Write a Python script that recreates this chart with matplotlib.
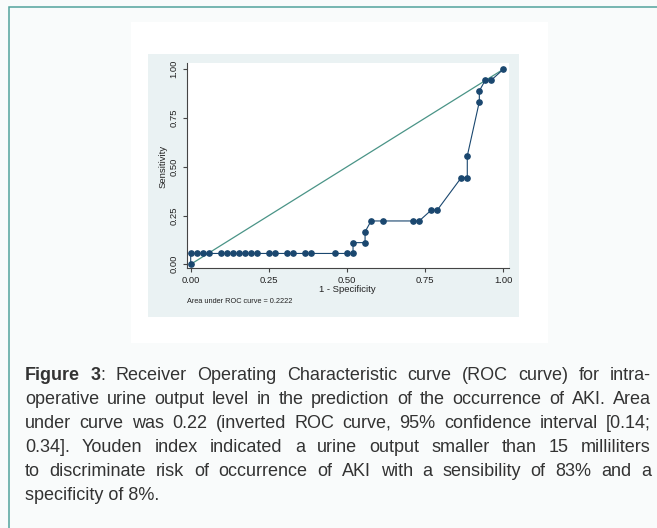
import matplotlib
matplotlib.use("Agg")
import matplotlib.pyplot as plt
from matplotlib.patches import Rectangle

# ---------------- data ----------------
one_minus_specificity = [0.0, 0.0, 0.0192, 0.0385, 0.0577, 0.0962, 0.1154, 0.1346, 0.1538,
                         0.1731, 0.1923, 0.2115, 0.25, 0.2692, 0.3077, 0.3269, 0.3654, 0.3846,
                         0.4615, 0.5, 0.5192, 0.5192, 0.5577, 0.5577, 0.5769, 0.6154, 0.7115,
                         0.7308, 0.7692, 0.7885, 0.8654, 0.8846, 0.8846, 0.9231, 0.9231,
                         0.9423, 0.9615, 1.0]
sensitivity = [0.0] + [0.0556] * 20 + [0.1111, 0.1111, 0.1667, 0.2222, 0.2222, 0.2222, 0.2222,
                                       0.2778, 0.2778, 0.4444, 0.4444, 0.5556, 0.8333, 0.8889,
                                       0.9444, 0.9444, 1.0]
reference_x = [0.0, 1.0]
reference_y = [0.0, 1.0]
tick_values = [0.0, 0.25, 0.5, 0.75, 1.0]
tick_labels = ["0.00", "0.25", "0.50", "0.75", "1.00"]
x_title = "1 - Specificity"
y_title = "Sensitivity"
auc_text = "Area under ROC curve = 0.2222"
caption_bold = "Figure 3"
caption_lines = [
    "Figure 3: Receiver Operating Characteristic curve (ROC curve) for intra-",
    "operative urine output level in the prediction of the occurrence of AKI. Area",
    "under curve was 0.22 (inverted ROC curve, 95% confidence interval [0.14;",
    "0.34]. Youden index indicated a urine output smaller than 15 milliliters",
    "to discriminate risk of occurrence of AKI with a sensibility of 83% and a",
    "specificity of 8%.",
]

plt.rcParams['font.family'] = ['Liberation Sans', 'DejaVu Sans']

W, H = 657, 528
fig = plt.figure(figsize=(W / 100, H / 100), dpi=100, facecolor="#f9fbfb")

# background canvas in pixel coordinates
bg = fig.add_axes([0, 0, 1, 1])
bg.set_xlim(0, W)
bg.set_ylim(H, 0)
bg.axis('off')
bg.plot([8.5, 8.5, W + 5], [H + 5, 6.5, 6.5], color="#52a39c", lw=1.1,
        solid_joinstyle='miter', clip_on=False)
bg.add_patch(Rectangle((131, 22), 417, 321, facecolor='white', edgecolor='none'))
bg.add_patch(Rectangle((148, 54), 371, 263, facecolor='#eaf2f3', edgecolor='none'))

# ---------------- plot ----------------
left, right, top, bottom = 186.5, 509.0, 63.0, 268.3
ax = fig.add_axes([left / W, 1 - bottom / H, (right - left) / W, (bottom - top) / H])
ax.set_facecolor('white')
ax.set_xlim(-0.0134, 1.018)
ax.set_ylim(-0.0205, 1.032)

ax.set_xticks(tick_values[1:], minor=True)
ax.set_yticks(tick_values[1:], minor=True)
ax.grid(which='minor', color='#e3eef0', lw=0.8)
ax.grid(which='major', visible=False)
ax.set_axisbelow(True)

ax.plot(reference_x, reference_y, color="#4a9487", lw=0.9, zorder=2)
ax.plot(one_minus_specificity, sensitivity, color="#1a476f", lw=0.8, marker='o',
        ms=3.8, mec="#1a476f", mfc="#1a476f", zorder=3)

for s in ['top', 'right']:
    ax.spines[s].set_visible(False)
for s in ['left', 'bottom']:
    ax.spines[s].set_color('#444444')
    ax.spines[s].set_linewidth(0.8)

ax.set_xticks(tick_values, tick_labels)
ax.set_yticks(tick_values, tick_labels)
ax.tick_params(which='major', length=3, width=0.8, color='#444444', labelsize=6.8,
               labelcolor='#222222')
ax.tick_params(axis='x', pad=2.6)
ax.tick_params(axis='y', pad=2.8)
ax.tick_params(which='minor', length=0)
for lab in ax.get_yticklabels():
    lab.set_rotation(90)
    lab.set_va('center')

bg.text(347, 289.5, x_title, ha='center', va='center', fontsize=6.8, color='#222222')
bg.text(163.3, 166.8, y_title, ha='center', va='center', rotation=90, fontsize=6.8,
        color='#222222')
bg.text(186.7, 301.7, auc_text, ha='left', va='center', fontsize=5.3, color='#222222')

# ---------------- justified caption ----------------
FS = 13.0
CAP_COLOR = '#333333'
renderer = fig.canvas.get_renderer()


def measure(s, weight):
    t = bg.text(0, 0, s, fontsize=FS, fontweight=weight)
    w = t.get_window_extent(renderer).width
    t.remove()
    return w


x_left, x_right = 25.0, 651.0
base0, step = 380.0, 24.0
nbold = len(caption_bold)
for i, line in enumerate(caption_lines):
    yb = base0 + i * step
    if i == len(caption_lines) - 1:
        bg.text(x_left, yb, line, fontsize=FS, color=CAP_COLOR, va='baseline', ha='left')
        continue
    words = []
    pos = 0
    for w in line.split(' '):
        start = line.index(w, pos)
        pos = start + len(w)
        segs = []
        for k, ch in enumerate(w):
            weight = 'bold' if (i == 0 and start + k < nbold) else 'normal'
            if segs and segs[-1][1] == weight:
                segs[-1][0] += ch
            else:
                segs.append([ch, weight])
        widths = [measure(s, wt) for s, wt in segs]
        words.append((segs, widths))
    total = sum(sum(ws) for _, ws in words)
    gap = (x_right - x_left - total) / (len(words) - 1)
    x = x_left
    for segs, widths in words:
        for (s, wt), wd in zip(segs, widths):
            bg.text(x, yb, s, fontsize=FS, fontweight=wt, color=CAP_COLOR,
                    va='baseline', ha='left')
            x += wd
        x += gap

fig.savefig("out.png", dpi=100, facecolor=fig.get_facecolor())
